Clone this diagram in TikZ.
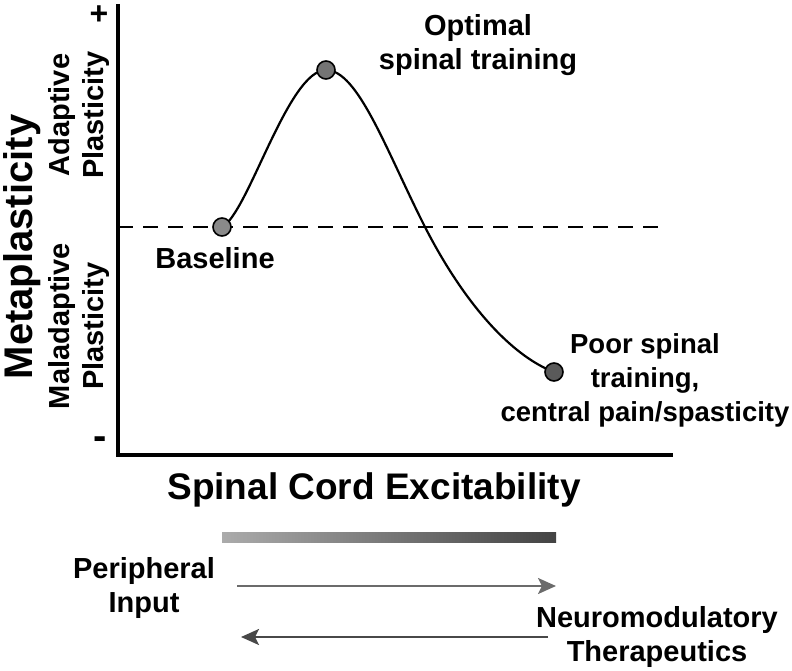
\documentclass[tikz,border=0pt]{standalone}
\usepackage{fontspec}
\setmainfont{Liberation Sans}
\usepackage{xcolor}
\usepackage{tikz}
\usetikzlibrary{positioning, arrows.meta}
\definecolor{dotlight}{HTML}{8A8A8A}
\definecolor{dotmid}{HTML}{747474}
\definecolor{dotdark}{HTML}{5A5A5A}
\definecolor{barlight}{HTML}{ABABAB}
\definecolor{bardark}{HTML}{434343}
\definecolor{arrowgray}{HTML}{6B6B6B}
\definecolor{arrowdark}{HTML}{484848}

\begin{document}
\begin{tikzpicture}[x=1pt, y=-1pt,
    lbl/.style={font=\bfseries\fontsize{29}{34}\selectfont, align=center, inner sep=0pt},
    dot/.style={circle, draw=black, line width=1.6pt, minimum size=18pt, inner sep=0pt}]
    \useasboundingbox (0,0) rectangle (792,671);
    \draw[line width=4pt] (118,4) -- (118,455) -- (673,455);
    \draw[line width=1.6pt, dash pattern=on 15pt off 10pt] (118,227) -- (658,227);
    \coordinate (base) at (222,227);
    \coordinate (peak) at (326,70);
    \coordinate (cross) at (425,227);
    \coordinate (poor) at (554,372);
    \draw[line width=2.2pt] (base) .. controls (248,214) and (288,70) .. (peak)
      .. controls (358,70) and (386,150) .. (cross)
      .. controls (465,305) and (512,356) .. (poor);
    \node[dot, fill=dotlight] (basedot) at (base) {};
    \node[dot, fill=dotmid] (peakdot) at (peak) {};
    \node[dot, fill=dotdark] (poordot) at (poor) {};
    \node[lbl] (baselbl) at (215,258) {Baseline};
    \node[lbl] (optlbl) at (478,45) {Optimal\\spinal training};
    \node[lbl, font=\bfseries\fontsize{27.5}{34}\selectfont] (poorlbl) at (645,380) {Poor spinal\\training,\\central pain/spasticity};
    \node[lbl, font=\bfseries\fontsize{40}{44}\selectfont, rotate=90] (metalbl) at (22,247) {Metaplasticity};
    \node[lbl, rotate=90] (adaptlbl) at (79,115) {Adaptive\\Plasticity};
    \node[lbl, rotate=90] (maladlbl) at (79,326) {Maladaptive\\Plasticity};
    \node[lbl, font=\bfseries\fontsize{32}{36}\selectfont] (plus) at (99,15) {+};
    \node[lbl, font=\bfseries\fontsize{40}{40}\selectfont] (minus) at (100,443) {-};
    \node[lbl, font=\bfseries\fontsize{37}{40}\selectfont] (xlbl) at (374,490) {Spinal Cord Excitability};
    \shade[left color=barlight, right color=bardark] (222,532) rectangle (556,542);
    \node[lbl] (periph) at (144,588) {Peripheral\\Input};
    \node[lbl] (neuro) at (657,637) {Neuromodulatory\\Therapeutics};
    \coordinate (a1s) at (237,586);
    \coordinate (a1e) at (556,586);
    \coordinate (a2s) at (548,637);
    \coordinate (a2e) at (241,637);
    \draw[arrowgray, line width=2.4pt, -{Stealth[length=18pt, width=16pt, inset=4pt]}] (a1s) -- (a1e);
    \draw[arrowdark, line width=2.6pt, -{Stealth[length=18pt, width=16pt, inset=4pt]}] (a2s) -- (a2e);
\end{tikzpicture}
\end{document}
